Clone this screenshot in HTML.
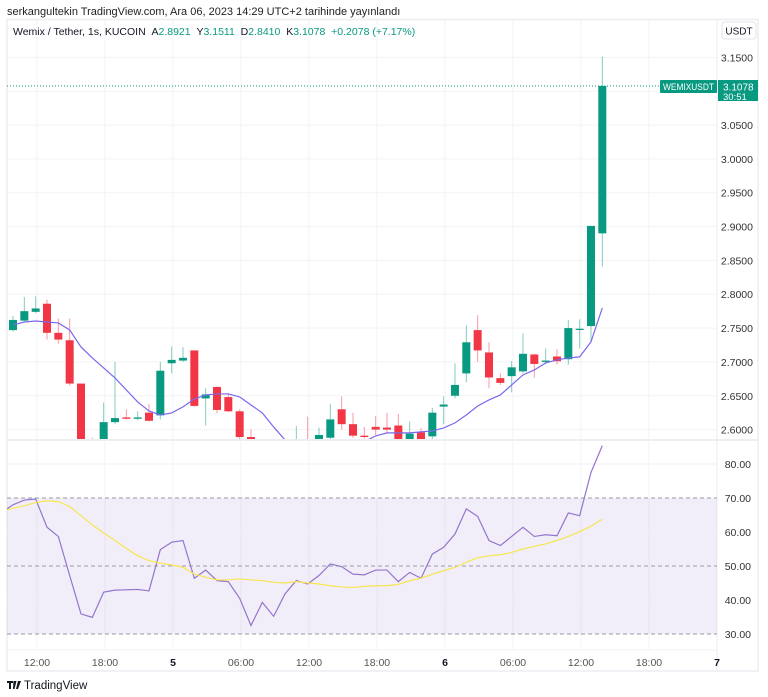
<!DOCTYPE html>
<html><head><meta charset="utf-8"><style>
body{margin:0;background:#fff;width:768px;height:697px;overflow:hidden;font-family:"Liberation Sans",sans-serif}
svg{position:absolute;left:0;top:0}
text{font-family:"Liberation Sans",sans-serif}
</style></head><body>
<svg id="c" width="768" height="697" xmlns="http://www.w3.org/2000/svg"></svg>
<script>
// ---- data ----
const timeLabels=["12:00","18:00","5","06:00","12:00","18:00","6","06:00","12:00","18:00","7"];
const priceTicks=[2.60,2.65,2.70,2.75,2.80,2.85,2.90,2.95,3.00,3.05,3.15];
const rsiTicks=[30,40,50,60,70,80];
const opens=[2.747,2.761,2.774,2.786,2.743,2.732,2.668,2.585,2.575,2.611,2.618,2.616,2.625,2.621,2.698,2.702,2.717,2.646,2.663,2.648,2.627,2.589,2.584,2.560,2.550,2.550,2.575,2.580,2.588,2.630,2.608,2.591,2.604,2.603,2.606,2.583,2.596,2.590,2.634,2.650,2.683,2.747,2.714,2.676,2.679,2.686,2.711,2.700,2.708,2.704,2.748,2.753,2.890];
const highs=[2.768,2.796,2.797,2.792,2.764,2.764,2.668,2.588,2.640,2.700,2.630,2.627,2.638,2.700,2.723,2.722,2.717,2.661,2.664,2.654,2.630,2.600,2.584,2.565,2.560,2.605,2.619,2.603,2.638,2.649,2.625,2.604,2.620,2.625,2.623,2.612,2.602,2.632,2.649,2.698,2.754,2.769,2.729,2.683,2.701,2.742,2.712,2.720,2.719,2.762,2.763,2.901,3.1511];
const lows=[2.745,2.760,2.772,2.733,2.727,2.665,2.560,2.580,2.570,2.608,2.615,2.614,2.612,2.615,2.683,2.700,2.634,2.606,2.624,2.626,2.585,2.580,2.555,2.545,2.540,2.540,2.550,2.575,2.586,2.600,2.588,2.587,2.592,2.594,2.580,2.580,2.580,2.584,2.608,2.646,2.670,2.700,2.661,2.666,2.655,2.683,2.677,2.697,2.696,2.696,2.720,2.729,2.841];
const closes=[2.762,2.775,2.779,2.743,2.733,2.668,2.585,2.583,2.611,2.617,2.616,2.618,2.613,2.687,2.703,2.706,2.635,2.652,2.629,2.627,2.589,2.584,2.560,2.550,2.555,2.575,2.560,2.592,2.615,2.608,2.591,2.589,2.600,2.600,2.583,2.594,2.584,2.625,2.637,2.666,2.729,2.717,2.677,2.669,2.692,2.712,2.697,2.702,2.701,2.750,2.749,2.901,3.1078];
const maValues=[2.7546,2.7590,2.7605,2.7590,2.7576,2.7472,2.7221,2.7059,2.6911,2.6763,2.6586,2.6409,2.6275,2.6216,2.6246,2.6335,2.6453,2.6512,2.6527,2.6527,2.6483,2.6364,2.6246,2.6039,2.5847,2.565,2.560,2.562,2.566,2.570,2.575,2.582,2.5906,2.5951,2.5951,2.5951,2.5966,2.5980,2.6025,2.6099,2.6216,2.6349,2.6438,2.6512,2.6660,2.6807,2.6881,2.6985,2.7029,2.7059,2.7074,2.7296,2.7798];
const rsiValues=[68.0,69.4,69.7,61.4,58.7,47.2,35.9,34.9,42.3,42.9,43.0,43.1,42.7,54.8,57.0,57.5,46.4,48.8,45.7,45.4,40.5,32.5,39.3,35.2,41.8,45.7,44.7,47.2,50.6,49.8,47.6,47.4,48.8,48.8,45.4,48.1,46.4,53.5,55.5,59.4,66.8,64.6,57.5,56.0,58.7,61.4,58.7,59.2,58.9,65.6,64.8,77.5,85.4];
const rsiMaValues=[67.0,67.7,68.7,69.2,68.9,67.5,64.8,62.1,59.7,57.5,55.2,53.0,51.6,50.9,50.3,49.6,47.6,46.7,45.9,45.9,46.2,45.9,45.7,45.2,45.0,45.4,45.0,44.7,44.2,43.8,43.7,44.0,44.2,44.2,44.6,45.7,46.4,47.6,48.6,49.6,51.1,52.4,53.0,53.3,54.0,55.0,55.8,56.5,57.5,58.7,60.1,61.7,63.8];

// ---- axes ----
const PX0=7,PX1=717,FR=758;
const xIdx=i=>13+i*11.333;
const xTime=k=>37+k*68;
const yP=p=>57.4+(3.15-p)*676.7;
const yR=r=>498+(70-r)*3.4;
const NS="http://www.w3.org/2000/svg";
const svg=document.getElementById('c');
function mk(tag,at,parent){const e=document.createElementNS(NS,tag);for(const k in at)e.setAttribute(k,at[k]);(parent||svg).appendChild(e);return e;}

const defs=mk('defs',{});
const cp=mk('clipPath',{id:'pc'},defs);mk('rect',{x:PX0,y:42,width:PX1-PX0,height:397},cp);
const cr=mk('clipPath',{id:'rc'},defs);mk('rect',{x:PX0,y:441,width:PX1-PX0,height:209},cr);

let t=mk('text',{x:7,y:15,'font-size':'11',fill:'#222'});t.textContent='serkangultekin TradingView.com, Ara 06, 2023 14:29 UTC+2 tarihinde yayınlandı';



let fr=mk('rect',{x:PX0,y:19.5,width:FR-PX0,height:651.5,fill:'none',stroke:'#eceef2','stroke-width':'1.5'});


mk('line',{x1:PX1,y1:19.5,x2:PX1,y2:671,stroke:'#eceef2','stroke-width':'1'});
mk('line',{x1:PX0,y1:440,x2:FR,y2:440,stroke:'#e6e8ee','stroke-width':'1.5'});
mk('line',{x1:PX0,y1:650,x2:PX1,y2:650,stroke:'#f0f1f4','stroke-width':'1'});

timeLabels.forEach((lab,k)=>{
  const x=xTime(k);
  if(x<PX1) mk('line',{x1:x,y1:20,x2:x,y2:650,stroke:'#f2f3f5','stroke-width':'1'});
  const tl=mk('text',{x:x,y:666,'font-size':'10.5','text-anchor':'middle',fill:lab.length<3?'#131722':'#555','font-weight':lab.length<3?'bold':'normal'});
  tl.textContent=lab;
  
  
});
priceTicks.forEach(p=>{
  const y=yP(p);
  mk('line',{x1:PX0,y1:y,x2:PX1,y2:y,stroke:'#f2f3f5','stroke-width':'1'});
  const tl=mk('text',{x:753,y:y+4,'font-size':'10.5','text-anchor':'end',fill:'#333'});
  tl.textContent=p.toFixed(4);
  
  
});
mk('line',{x1:PX0,y1:yP(3.10),x2:PX1,y2:yP(3.10),stroke:'#f2f3f5','stroke-width':'1'});

const lg=mk('text',{x:13,y:35,'font-size':'10.5',fill:'#131722'});


lg.innerHTML='Wemix / Tether, 1s, KUCOIN&#160;&#160;A<tspan fill="#089981">2.8921</tspan>&#160;&#160;Y<tspan fill="#089981">3.1511</tspan>&#160;&#160;D<tspan fill="#089981">2.8410</tspan>&#160;&#160;K<tspan fill="#089981">3.1078</tspan>&#160;&#160;<tspan fill="#089981">+0.2078 (+7.17%)</tspan>';

const ub=mk('rect',{x:722,y:22,width:34,height:17,rx:3,fill:'#fff',stroke:'#e0e3eb'});


t=mk('text',{x:739,y:34.5,'font-size':'10','text-anchor':'middle',fill:'#131722'});t.textContent='USDT';

const lp=mk('line',{x1:PX0,y1:yP(3.1078),x2:660,y2:yP(3.1078),stroke:'#089981','stroke-width':'1','stroke-dasharray':'1 2'});



const gC=mk('g',{'clip-path':'url(#pc)'});
opens.forEach((o,i)=>{
  const c=closes[i],h=highs[i],l=lows[i],x=xIdx(i);
  const col=c>=o?'#089981':'#f23645';
  const w=mk('line',{x1:x,y1:yP(h),x2:x,y2:yP(l),stroke:col,'stroke-width':'1','stroke-opacity':'0.5'},gC);
  
  
  const yt=yP(Math.max(o,c)),yb=yP(Math.min(o,c));
  const b=mk('rect',{x:x-4,y:yt,width:8,height:Math.max(1.2,yb-yt),fill:col},gC);
  
  
});
const ma=mk('polyline',{points:maValues.map((v,i)=>xIdx(i)+','+yP(v)).join(' '),fill:'none',stroke:'#7b68ee','stroke-width':'1.2'},gC);



let r=mk('rect',{x:660,y:80,width:57,height:13,fill:'#089981',rx:1});


t=mk('text',{x:663,y:90,'font-size':'9.5',fill:'#fff',textLength:'51',lengthAdjust:'spacingAndGlyphs'});t.textContent='WEMIXUSDT';
r=mk('rect',{x:718,y:80,width:40,height:21,fill:'#089981'});


t=mk('text',{x:723,y:90.5,'font-size':'10',fill:'#fff'});t.textContent='3.1078';
t=mk('text',{x:723,y:100,'font-size':'9.5',fill:'#fff'});t.textContent='30:51';

const band=mk('rect',{x:PX0,y:yR(70),width:PX1-PX0,height:yR(30)-yR(70),fill:'#7e57c2','fill-opacity':'0.1'});


rsiTicks.forEach(v=>{
  const y=yR(v);
  if(v===30||v===50||v===70) mk('line',{x1:PX0,y1:y,x2:PX1,y2:y,stroke:'#9a9aa6','stroke-width':'1','stroke-dasharray':'4 3'});
  else mk('line',{x1:PX0,y1:y,x2:PX1,y2:y,stroke:'#f0eef5','stroke-width':'1'});
  const tl=mk('text',{x:751,y:y+4,'font-size':'10.5','text-anchor':'end',fill:'#333'});
  tl.textContent=v.toFixed(2);
  
  
});
const gR=mk('g',{'clip-path':'url(#rc)'});
const rl=mk('polyline',{points:[PX0+','+yR(66.8)].concat(rsiValues.map((v,i)=>xIdx(i)+','+yR(v))).join(' '),fill:'none',stroke:'#9575cd','stroke-width':'1.2'},gR);


const rm=mk('polyline',{points:[PX0+','+yR(66.5)].concat(rsiMaValues.map((v,i)=>xIdx(i)+','+yR(v))).join(' '),fill:'none',stroke:'#f7e552','stroke-width':'1.2'},gR);



const lgo=mk('g',{});


mk('path',{d:'M7 681h6v2h-2v6h-2v-6H7z M13.5 681h3l-2 8h-1.5z M18 681h3l-3 8h-2z',fill:'#131722'},lgo);
t=mk('text',{x:24,y:689,'font-size':'11.5',fill:'#131722'},lgo);t.textContent='TradingView';
</script>
</body></html>
